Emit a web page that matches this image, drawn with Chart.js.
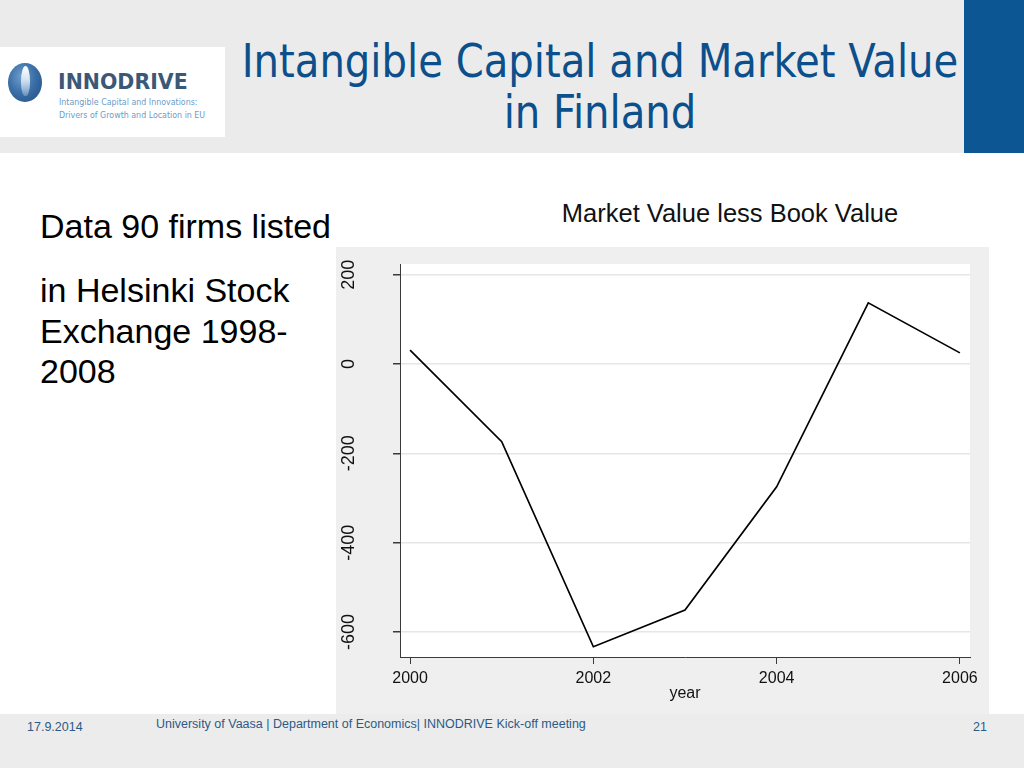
<!DOCTYPE html>
<html>
<head>
<meta charset="utf-8">
<script src="https://cdn.jsdelivr.net/npm/chart.js@4.4.1/dist/chart.umd.min.js"></script>
<style>
  html, body { margin: 0; padding: 0; }
  body { width: 1024px; height: 768px; position: relative; overflow: hidden; background: #fff; font-family: "Liberation Sans", Arial, sans-serif; }
  .abs { position: absolute; white-space: nowrap; }
  #header { left: 0; top: 0; width: 1024px; height: 153px; background: #ebebeb; }
  #bluebox { left: 964px; top: 0; width: 60px; height: 153px; background: #0b5693; }
  #logo { left: 0; top: 47px; width: 225px; height: 90px; background: #fff; }
  #orb { left: 8px; top: 63px; width: 34px; height: 39px; border-radius: 50%;
         background: radial-gradient(ellipse at 40% 35%, #6f9fce 0%, #3c70a8 45%, #1e4c80 100%); }
  #drop { left: 21px; top: 66px; width: 9px; height: 30px; border-radius: 50% 50% 45% 45%;
          background: linear-gradient(#ffffff 0%, #dbe8f4 40%, rgba(180,205,230,0.4) 100%); }
  #brand { left: 58px; top: 72px; font: bold 20.5px "DejaVu Sans", Verdana, sans-serif; line-height: 20px; color: #3c5877; }
  .sub { left: 59px; font: 8.8px "DejaVu Sans Condensed", "DejaVu Sans", sans-serif; line-height: 9px; color: #6b9bc9; }
  .ttl { left: 220px; width: 760px; text-align: center; font: 47px "DejaVu Sans Condensed", "DejaVu Sans", sans-serif; line-height: 47px; color: #0c4f8b; transform: scaleX(0.95); transform-origin: 380px 0; }
  .body { left: 40px; font-size: 34px; line-height: 34px; color: #000; }
  #ctitle { left: 480px; width: 500px; text-align: center; font-size: 25.5px; line-height: 26px; color: #111; }
  #panel { left: 336px; top: 247px; width: 653px; height: 467px; background: #efefef; }
  #footer { left: 0; top: 714px; width: 1024px; height: 54px; background: #ececec; }
  .foot { font-size: 12.5px; line-height: 13px; color: #2d5a86; }
</style>
</head>
<body>
<div class="abs" id="header"></div>
<div class="abs" id="bluebox"></div>
<div class="abs" id="logo"></div>
<div class="abs" id="orb"></div>
<div class="abs" id="drop"></div>
<div class="abs" id="brand">INNODRIVE</div>
<div class="abs sub" style="top:98px">Intangible Capital and Innovations:</div>
<div class="abs sub" style="top:111px">Drivers of Growth and Location in EU</div>

<div class="abs ttl" style="top:37px">Intangible Capital and Market Value</div>
<div class="abs ttl" style="top:88px">in Finland</div>

<div class="abs body" style="top:209px">Data 90 firms listed</div>
<div class="abs body" style="top:273px">in Helsinki Stock</div>
<div class="abs body" style="top:314px">Exchange 1998-</div>
<div class="abs body" style="top:354px">2008</div>

<div class="abs" id="ctitle" style="top:200px">Market Value less Book Value</div>

<div class="abs" id="panel"><canvas id="mvbv"></canvas></div>

<div class="abs" id="footer"></div>
<div class="abs foot" style="left:27px; top:721px">17.9.2014</div>
<div class="abs foot" style="left:156px; top:718px">University of Vaasa | Department of Economics| INNODRIVE Kick-off meeting</div>
<div class="abs foot" style="left:960px; width:27px; text-align:right; top:721px">21</div>

<script>
// values
const years = [2000, 2001, 2002, 2003, 2004, 2005, 2006];
const mvLessBv = [31, -174, -633, -551, -275, 137, 25];
const xTicks = [2000, 2002, 2004, 2006];
const yTicks = [-600, -400, -200, 0, 200];

const axisColor = '#3a3a3a';
const tickFont = { family: '"Liberation Sans", Arial, sans-serif', size: 16 };

const plotBackground = {
    id: 'plotBackground',
    beforeDraw(chart) {
        const a = chart.chartArea;
        const c = chart.ctx;
        c.save();
        c.fillStyle = '#ffffff';
        c.fillRect(a.left, a.top, a.right - a.left, a.bottom - a.top);
        c.restore();
    }
};

const ctx = document.getElementById('mvbv');

new Chart(ctx, {
    type: 'line',
    data: {
        datasets: [{
            label: 'Market Value less Book Value',
            data: years.map((y, i) => ({ x: y, y: mvLessBv[i] })),
            borderColor: '#000000',
            borderWidth: 1.7,
            pointRadius: 0,
            tension: 0,
            fill: false
        }]
    },
    options: {
        responsive: true,
        maintainAspectRatio: false,
        animation: false,
        layout: {
            padding: { top: 17, right: 19, left: 0, bottom: 0 }
        },
        plugins: {
            legend: { display: false },
            tooltip: { enabled: false }
        },
        scales: {
            x: {
                type: 'linear',
                min: 1999.89,
                max: 2006.11,
                afterBuildTicks: s => { s.ticks = xTicks.map(v => ({ value: v })); },
                afterFit: s => { s.height = 57; },
                grid: {
                    drawOnChartArea: false,
                    tickColor: axisColor,
                    tickLength: 7
                },
                border: { display: true, color: axisColor, width: 1 },
                ticks: {
                    padding: 5,
                    color: '#111',
                    font: tickFont,
                    maxRotation: 0,
                    callback: v => String(v)
                },
                title: {
                    display: true,
                    text: 'year',
                    color: '#111',
                    font: tickFont,
                    padding: { top: 0, bottom: 11 }
                }
            },
            y: {
                min: -656,
                max: 224,
                afterBuildTicks: s => { s.ticks = yTicks.map(v => ({ value: v })); },
                afterFit: s => { s.width = 64; s.paddingTop = 8; s.paddingBottom = 8; },
                grid: {
                    color: '#e6e6e6',
                    lineWidth: 1.5,
                    tickColor: axisColor,
                    tickLength: 7
                },
                border: { display: true, color: axisColor, width: 1 },
                ticks: {
                    minRotation: 90,
                    maxRotation: 90,
                    crossAlign: 'center',
                    padding: 26,
                    color: '#111',
                    font: { family: tickFont.family, size: 18 }
                }
            }
        }
    },
    plugins: [plotBackground]
});
</script>
</body>
</html>
